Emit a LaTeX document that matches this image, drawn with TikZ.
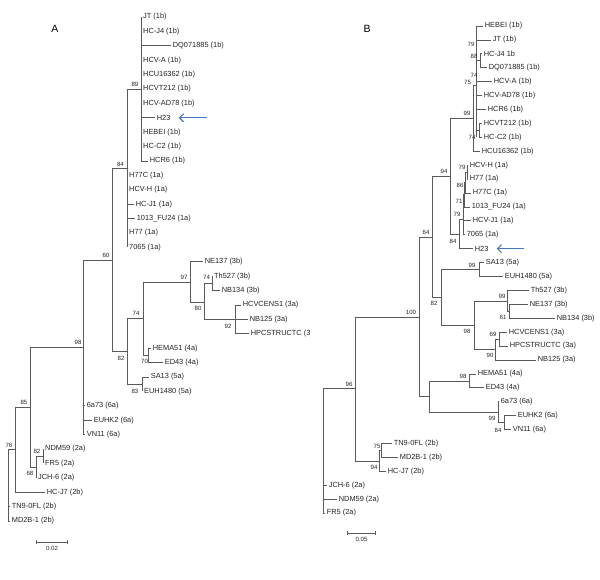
\documentclass[tikz,border=0pt]{standalone}
\usepackage{fontspec}
\setmainfont{Liberation Sans}
\usetikzlibrary{arrows.meta,positioning}
\definecolor{treeln}{RGB}{90,90,90}
\definecolor{tiptext}{RGB}{35,35,35}
\definecolor{arrowblue}{RGB}{70,118,192}
\tikzset{
  branch/.style={line width=0.7pt, treeln},
  taxon/.style={anchor=west, inner sep=2pt, text=tiptext, font=\fontsize{7.4}{8}\selectfont},
  boot/.style={inner sep=0pt, text=tiptext, font=\fontsize{6.1}{7}\selectfont},
  panel/.style={inner sep=0pt, font=\fontsize{10.5}{12}\selectfont},
  pointer/.style={-{Straight Barb[length=4pt,width=8pt,line width=1.1pt]}, line width=1.1pt, arrowblue},
  scalebar/.style={{Bar[width=4pt]}-{Bar[width=4pt]}, line width=0.6pt, treeln},
}

\begin{document}
\begin{tikzpicture}[x=1pt,y=-1pt]
  \useasboundingbox (0,0) rectangle (600,580);
  % ================= panel A =================
  \node[panel] (labA) at (55,29) {A};
  % genotype 1b
  \draw[branch] (141,17) -- (141,161);
  \node[taxon] (aJT) at (141,17) {JT (1b)};
  \node[taxon] (aHCJ4) at (141,31.4) {HC-J4 (1b)};
  \draw[branch] (141,45.8) -- (170.5,45.8) node[taxon] (aDQ) {DQ071885 (1b)};
  \node[taxon] (aHCVA) at (141,60.2) {HCV-A (1b)};
  \node[taxon] (aHCU) at (141,74.6) {HCU16362 (1b)};
  \node[taxon] (aHCVT) at (141,89) {HCVT212 (1b)};
  \node[taxon] (aAD78) at (141,103.4) {HCV-AD78 (1b)};
  \draw[branch] (141,117.8) -- (154.5,117.8) node[taxon] (aH23) {H23};
  \node[taxon] (aHEBEI) at (141,132.2) {HEBEI (1b)};
  \node[taxon] (aHCC2) at (141,146.6) {HC-C2 (1b)};
  \draw[branch] (141,161) -- (147.5,161) node[taxon] (aHCR6) {HCR6 (1b)};
  \draw[branch] (127,89) -- (141,89);
  \node[boot] (bA89) at (135,84.5) {89};
  % genotype 1a
  \draw[branch] (127,89) -- (127,247.4);
  \node[taxon] (aH77C) at (127,175.4) {H77C (1a)};
  \node[taxon] (aHCVH) at (127,189.8) {HCV-H (1a)};
  \draw[branch] (127,204.2) -- (133.5,204.2) node[taxon] (aHCJ1) {HC-J1 (1a)};
  \draw[branch] (127,218.6) -- (134.5,218.6) node[taxon] (aFU24) {1013\_FU24 (1a)};
  \node[taxon] (aH77) at (127,233) {H77 (1a)};
  \node[taxon] (a7065) at (127,247.4) {7065 (1a)};
  \draw[branch] (112,168.5) -- (127,168.5);
  \node[boot] (bA84) at (120.5,164) {84};
  % genotype 3
  \draw[branch] (190,261.8) -- (190,302) (190,261.8) -- (202.5,261.8) node[taxon] (aNE137) {NE137 (3b)};
  \draw[branch] (212,276.2) -- (212,290.6) (212,290.6) -- (219.5,290.6) node[taxon] (aNB134) {NB134 (3b)};
  \node[taxon] (aTh527) at (212,276.2) {Th527 (3b)};
  \draw[branch] (204,283.4) -- (212,283.4);
  \node[boot] (bA74s) at (206.5,277.5) {74};
  \draw[branch] (235,305) -- (235,333.8);
  \draw[branch] (235,305) -- (240.5,305) node[taxon] (aCENS1) {HCVCENS1 (3a)};
  \draw[branch] (204,319.4) -- (247.5,319.4) node[taxon] (aNB125) {NB125 (3a)};
  \draw[branch] (235,333.8) -- (248.5,333.8) node[taxon] (aHPC) {HPCSTRUCTC (3};
  \node[boot] (bA92) at (228,326.5) {92};
  \draw[branch] (204,283.4) -- (204,319.4) (190,302) -- (204,302);
  \node[boot] (bA80) at (198,308) {80};
  \draw[branch] (143,282) -- (190,282);
  \node[boot] (bA97) at (184,277) {97};
  % genotype 4a
  \draw[branch] (148,348.2) -- (148,362.6) (148,348.2) -- (150.5,348.2) node[taxon] (aHEMA51) {HEMA51 (4a)};
  \draw[branch] (148,362.6) -- (162.5,362.6) node[taxon] (aED43) {ED43 (4a)};
  \draw[branch] (143,355.4) -- (148,355.4);
  \node[boot] (bA70) at (144.5,361.5) {70};
  \draw[branch] (143,282) -- (143,355.4) (127,318.5) -- (143,318.5);
  \node[boot] (bA74) at (136,313) {74};
  % genotype 5a
  \draw[branch] (142,377) -- (142,391.4) (142,377) -- (148.5,377) node[taxon] (aSA13) {SA13 (5a)};
  \node[taxon] (aEUH) at (142,391.4) {EUH1480 (5a)};
  \node[boot] (bA83) at (135,391) {83};
  \draw[branch] (127,318.5) -- (127,384.2) -- (142,384.2);
  \draw[branch] (112,351) -- (127,351);
  \node[boot] (bA82) at (121,358) {82};
  \draw[branch] (112,168.5) -- (112,351) (83,260) -- (112,260);
  \node[boot] (bA60) at (106,255) {60};
  % genotype 6a
  \draw[branch] (83,260) -- (83,434.6);
  \draw[branch] (83,405.8) -- (84.5,405.8) node[taxon] (a6a73) {6a73 (6a)};
  \draw[branch] (83,420.2) -- (91.5,420.2) node[taxon] (aEUHK2) {EUHK2 (6a)};
  \draw[branch] (83,434.6) -- (84.5,434.6) node[taxon] (aVN11) {VN11 (6a)};
  \draw[branch] (30,347) -- (83,347);
  \node[boot] (bA98) at (78,342) {98};
  % genotype 2
  \draw[branch] (43,449) -- (43,463.4);
  \node[taxon] (aNDM59) at (43,449) {NDM59 (2a)};
  \node[taxon] (aFR5) at (43,463.4) {FR5 (2a)};
  \draw[branch] (36,456.2) -- (43,456.2);
  \node[boot] (bA82s) at (37,451) {82};
  \draw[branch] (36,456.2) -- (36,477.8);
  \node[taxon] (aJCH6) at (36,477.8) {JCH-6 (2a)};
  \draw[branch] (30,467) -- (36,467);
  \node[boot] (bA68) at (30,473) {68};
  \draw[branch] (30,347) -- (30,467) (15,407) -- (30,407);
  \node[boot] (bA85) at (24,402) {85};
  \draw[branch] (15,407) -- (15,492.2) -- (44.5,492.2) node[taxon] (aHCJ7) {HC-J7 (2b)};
  \draw[branch] (8,449.6) -- (15,449.6);
  \node[boot] (bA76) at (9,445) {76};
  \draw[branch] (8,449.6) -- (8,521) (8,506.6) -- (9.5,506.6) node[taxon] (aTN9) {TN9-0FL (2b)};
  \draw[branch] (8,521) -- (9.5,521) node[taxon] (aMD2B) {MD2B-1 (2b)};
  % arrow and scale
  \coordinate (aTail) at (207,117.8);
  \draw[pointer, shorten >=6pt] (aTail) -- (aH23.east);
  \coordinate (aBarL) at (36,542);
  \coordinate (aBarR) at (68,542);
  \draw[scalebar] (aBarL) -- (aBarR) node[boot, midway, below=3.5pt] (aScale) {0.02};

  % ================= panel B =================
  \node[panel] (labB) at (367,29) {B};
  % genotype 1b
  \draw[branch] (476,26) -- (476,137.3);
  \draw[branch] (476,26) -- (482.5,26) node[taxon] (bHEBEI) {HEBEI (1b)};
  \draw[branch] (476,39.9) -- (490.5,39.9) node[taxon] (bJT) {JT (1b)};
  \node[boot] (bB79) at (471,44) {79};
  \draw[branch] (480,53.8) -- (480,67.7) (476,60.8) -- (480,60.8);
  \draw[branch] (480,53.8) -- (481.5,53.8) node[taxon] (bHCJ4) {HC-J4 1b};
  \draw[branch] (480,67.7) -- (486.5,67.7) node[taxon] (bDQ) {DQ071885 (1b)};
  \node[boot] (bB88) at (474,56) {88};
  \draw[branch] (476,81.7) -- (491.5,81.7) node[taxon] (bHCVA) {HCV-A (1b)};
  \node[boot] (bB75) at (467.5,82) {75};
  \node[boot] (bB74a) at (474,75) {74};
  \draw[branch] (476,95.6) -- (481.5,95.6) node[taxon] (bAD78) {HCV-AD78 (1b)};
  \draw[branch] (476,109.5) -- (485.5,109.5) node[taxon] (bHCR6) {HCR6 (1b)};
  \draw[branch] (479,123.4) -- (479,137.3) (476,130.4) -- (479,130.4);
  \draw[branch] (479,123.4) -- (481.5,123.4) node[taxon] (bHCVT) {HCVT212 (1b)};
  \draw[branch] (479,137.3) -- (481.5,137.3) node[taxon] (bHCC2) {HC-C2 (1b)};
  \node[boot] (bB74) at (472,137) {74};
  \draw[branch] (473,85) -- (473,151.2) (473,85) -- (476,85);
  \draw[branch] (473,151.2) -- (479.5,151.2) node[taxon] (bHCU) {HCU16362 (1b)};
  \draw[branch] (450,118) -- (473,118);
  \node[boot] (bB99) at (467,113) {99};
  % genotype 1a
  \draw[branch] (467,165.1) -- (467,179) (465,172) -- (467,172);
  \draw[branch] (467,165.1) -- (467.5,165.1) node[taxon] (bHCVH) {HCV-H (1a)};
  \draw[branch] (467,179) -- (467.5,179) node[taxon] (bH77) {H77 (1a)};
  \node[boot] (bB79a) at (462,167) {79};
  \draw[branch] (465,172) -- (465,193) -- (470.5,193) node[taxon] (bH77C) {H77C (1a)};
  \draw[branch] (464,182.5) -- (465,182.5);
  \node[boot] (bB86) at (460,185) {86};
  \draw[branch] (464,182.5) -- (464,206.9) -- (469.5,206.9) node[taxon] (bFU24) {1013\_FU24 (1a)};
  \draw[branch] (463,194.7) -- (464,194.7);
  \node[boot] (bB71) at (459,201) {71};
  \draw[branch] (463,194.7) -- (463,234.7);
  \draw[branch] (463,220.8) -- (470.5,220.8) node[taxon] (bHCVJ1) {HCV-J1 (1a)};
  \draw[branch] (463,234.7) -- (464.5,234.7) node[taxon] (b7065) {7065 (1a)};
  \node[boot] (bB79b) at (457,214) {79};
  \draw[branch] (459,219.4) -- (463,219.4);
  \draw[branch] (459,219.4) -- (459,248.6) -- (472.5,248.6) node[taxon] (bH23) {H23};
  \draw[branch] (450,234) -- (459,234);
  \node[boot] (bB84) at (453,241) {84};
  \draw[branch] (450,118) -- (450,234) (432,176) -- (450,176);
  \node[boot] (bB94) at (444,171) {94};
  % genotype 5a
  \draw[branch] (479,262.5) -- (479,276.5);
  \draw[branch] (479,262.5) -- (483.5,262.5) node[taxon] (bSA13) {SA13 (5a)};
  \draw[branch] (479,276.5) -- (502.5,276.5) node[taxon] (bEUH) {EUH1480 (5a)};
  \draw[branch] (441,269.5) -- (479,269.5);
  \node[boot] (bB99a) at (472,265) {99};
  % genotype 3
  \draw[branch] (507,290.4) -- (507,311.3);
  \draw[branch] (507,290.4) -- (528.5,290.4) node[taxon] (bTh527) {Th527 (3b)};
  \node[boot] (bB99b) at (502,296) {99};
  \draw[branch] (509,304.3) -- (509,318.2) (507,311.3) -- (509,311.3);
  \draw[branch] (509,304.3) -- (527.5,304.3) node[taxon] (bNE137) {NE137 (3b)};
  \draw[branch] (509,318.2) -- (554.5,318.2) node[taxon] (bNB134) {NB134 (3b)};
  \node[boot] (bB61) at (503,317) {61};
  \draw[branch] (499,332.1) -- (499,346);
  \draw[branch] (499,332.1) -- (506.5,332.1) node[taxon] (bCENS1) {HCVCENS1 (3a)};
  \draw[branch] (499,346) -- (507.5,346) node[taxon] (bHPC) {HPCSTRUCTC (3a)};
  \node[boot] (bB69) at (493,334) {69};
  \draw[branch] (495,339) -- (499,339) (495,339) -- (495,359.9);
  \draw[branch] (495,359.9) -- (535.5,359.9) node[taxon] (bNB125) {NB125 (3a)};
  \node[boot] (bB90) at (490,355) {90};
  \draw[branch] (474,301) -- (507,301) (474,301) -- (474,349.5) -- (495,349.5);
  \draw[branch] (441,325) -- (474,325);
  \node[boot] (bB98) at (467,331) {98};
  \draw[branch] (441,269.5) -- (441,325) (432,297) -- (441,297);
  \node[boot] (bB82) at (434,303) {82};
  \draw[branch] (432,176) -- (432,297) (419,237) -- (432,237);
  \node[boot] (bB64) at (426,232) {64};
  % genotype 4a
  \draw[branch] (469,373.9) -- (469,387.8);
  \draw[branch] (469,373.9) -- (475.5,373.9) node[taxon] (bHEMA51) {HEMA51 (4a)};
  \draw[branch] (469,387.8) -- (483.5,387.8) node[taxon] (bED43) {ED43 (4a)};
  \node[boot] (bB98a) at (463,376) {98};
  \draw[branch] (429,381) -- (469,381);
  % genotype 6a
  \draw[branch] (498,401.7) -- (498,422.5);
  \draw[branch] (498,401.7) -- (498.5,401.7) node[taxon] (b6a73) {6a73 (6a)};
  \draw[branch] (504,415.6) -- (504,429.5) (498,422.5) -- (504,422.5);
  \draw[branch] (504,415.6) -- (515.5,415.6) node[taxon] (bEUHK2) {EUHK2 (6a)};
  \draw[branch] (504,429.5) -- (510.5,429.5) node[taxon] (bVN11) {VN11 (6a)};
  \node[boot] (bB99c) at (492,418) {99};
  \node[boot] (bB84a) at (498,430) {84};
  \draw[branch] (429,412) -- (498,412);
  \draw[branch] (429,381) -- (429,412) (419,396.5) -- (429,396.5);
  \draw[branch] (419,237) -- (419,396.5) (355,317) -- (419,317);
  \node[boot] (bB100) at (411,312) {100};
  % genotype 2
  \draw[branch] (381,443.4) -- (381,457.3);
  \draw[branch] (381,443.4) -- (391.5,443.4) node[taxon] (bTN9) {TN9-0FL (2b)};
  \draw[branch] (381,457.3) -- (397.5,457.3) node[taxon] (bMD2B) {MD2B-1 (2b)};
  \node[boot] (bB75a) at (377,446) {75};
  \draw[branch] (379,450.4) -- (381,450.4) (379,450.4) -- (379,471.2);
  \draw[branch] (379,471.2) -- (385.5,471.2) node[taxon] (bHCJ7) {HC-J7 (2b)};
  \node[boot] (bB94a) at (374,467) {94};
  \draw[branch] (355,461) -- (379,461);
  \draw[branch] (355,317) -- (355,461) (323,388) -- (355,388);
  \node[boot] (bB96) at (349,384) {96};
  \draw[branch] (323,388) -- (323,513);
  \draw[branch] (323,485.2) -- (326.5,485.2) node[taxon] (bJCH6) {JCH-6 (2a)};
  \draw[branch] (323,499.1) -- (336.5,499.1) node[taxon] (bNDM59) {NDM59 (2a)};
  \draw[branch] (323,513) -- (324.5,513) node[taxon] (bFR5) {FR5 (2a)};
  % arrow and scale
  \coordinate (bTail) at (524,248.6);
  \draw[pointer, shorten >=6pt] (bTail) -- (bH23.east);
  \coordinate (bBarL) at (347,533);
  \coordinate (bBarR) at (376,533);
  \draw[scalebar] (bBarL) -- (bBarR) node[boot, midway, below=3.5pt] (bScale) {0.05};
\end{tikzpicture}
\end{document}
